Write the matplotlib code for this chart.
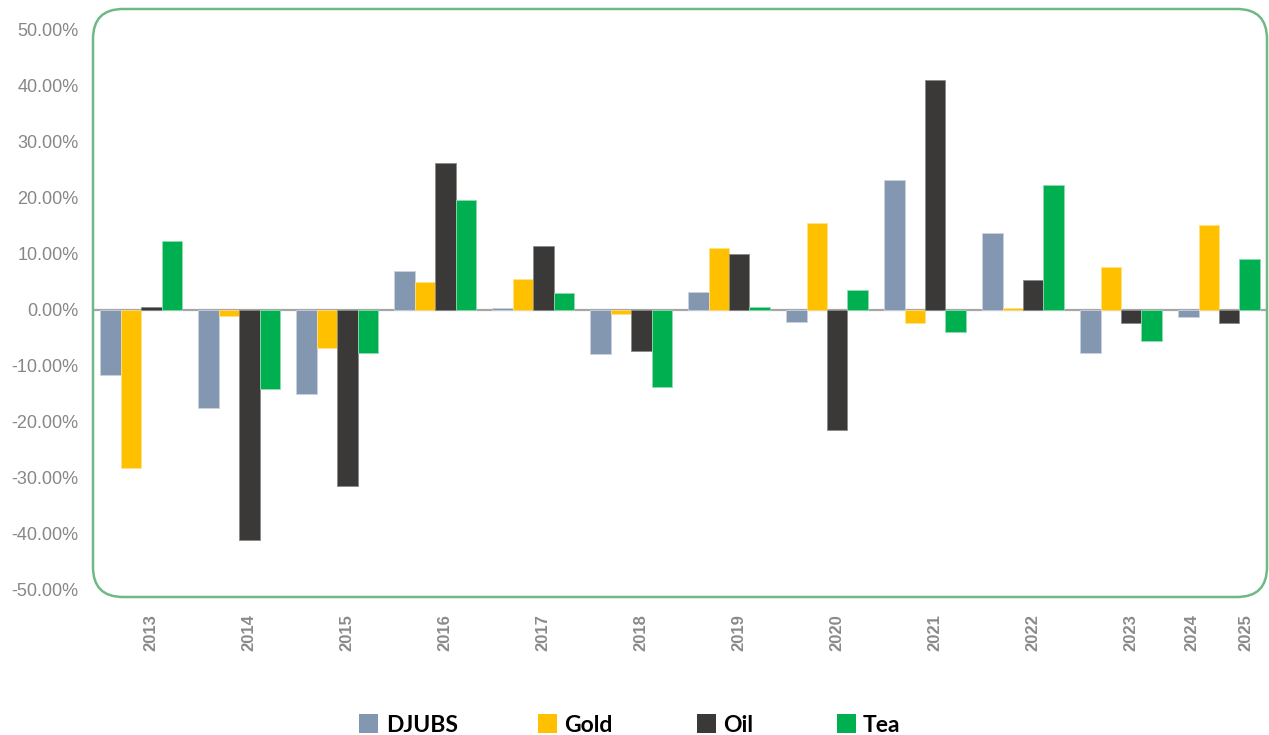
import numpy as np
import matplotlib
matplotlib.use("Agg")
import matplotlib.pyplot as plt
from matplotlib.patches import FancyBboxPatch, Rectangle
from matplotlib.transforms import IdentityTransform

# ---------------- data ----------------
series_names = ["DJUBS", "Gold", "Oil", "Tea"]
djubs = [-11.8, -17.7, -15.2, 6.8, 0.3, -8.0, 3.1, -2.3, 23.2, 13.7, -7.7, -1.3]
gold = [-28.4, -1.1, -6.8, 4.9, 5.4, -0.8, 11.0, 15.4, -2.4, 0.2, 7.6, 15.2]
oil = [0.5, -41.2, -31.5, 26.2, 11.3, -7.4, 10.0, -21.5, 41.1, 5.3, -2.4, -2.4]
tea = [12.3, -14.3, -7.7, 19.6, 2.9, -13.9, 0.4, 3.5, -4.1, 22.2, -5.7, 9.0]
year_labels = ["2013", "2014", "2015", "2016", "2017", "2018", "2019",
               "2020", "2021", "2022", "2023", "2024", "2025"]
y_ticks = [-50, -40, -30, -20, -10, 0, 10, 20, 30, 40, 50]

colors = ["#8497B0", "#FFC000", "#3B3838", "#00B050"]
edge_colors = ["#c9d2de", "#ffe08a", "#8a8a8a", "#8fdcb0"]

W, H = 1269, 735
fig = plt.figure(figsize=(W / 100, H / 100), dpi=100)

# axes placement (pixels)
ax_left, ax_right, ax_top, ax_bot = 94, 1268, 30, 589
ax = fig.add_axes([ax_left / W, 1 - ax_bot / H, (ax_right - ax_left) / W, (ax_bot - ax_top) / H])

n_groups = len(djubs)
x = np.arange(n_groups)
bw = 0.209
for k, (vals, c, ec) in enumerate(zip([djubs, gold, oil, tea], colors, edge_colors)):
    ax.bar(x + (k - 1.5) * bw, vals, width=bw, color=c, edgecolor=ec,
           linewidth=0.6, zorder=3, label=series_names[k])

ax.axhline(0, color="#a6a6a6", linewidth=1.6, zorder=2)
ax.set_ylim(-50, 50)
ax.set_xlim(-0.48, 11.5)

for s in ax.spines.values():
    s.set_visible(False)

ax.set_yticks(y_ticks)
ax.set_yticklabels([f"{v:.2f}%" for v in y_ticks], fontsize=13,
                   color="#878787", family=["Liberation Sans", "DejaVu Sans"])
ax.tick_params(axis="y", length=0, pad=11)

# tick label positions (layout)
label_pos = list(np.arange(11) + 0.10) + [10.72, 11.27]
ax.set_xticks(label_pos)
ax.set_xticklabels(year_labels, rotation=90, fontsize=12, fontweight="bold",
                   color="#8a8a8a", family=["Liberation Sans", "DejaVu Sans"])
ax.tick_params(axis="x", length=0, pad=18)
for t in ax.get_xticklabels():
    t.set_va("top")
    t.set_ha("center")

# rounded green border (pixels, display coords)
bx0, by_top, bx1, by_bot = 93, 9, 1267, 597
border = FancyBboxPatch((bx0, H - by_bot), bx1 - bx0, by_bot - by_top,
                        boxstyle="round,pad=0,rounding_size=30",
                        transform=IdentityTransform(), fill=False,
                        edgecolor="#6fb985", linewidth=1.8, zorder=10)
fig.add_artist(border)

# manual legend
leg_sq_x = [359, 538, 697, 837]
leg_txt_x = [386, 564, 723, 863]
sq = 19
for name, c, sx, tx in zip(series_names, colors, leg_sq_x, leg_txt_x):
    fig.add_artist(Rectangle((sx, H - 733), sq, sq, transform=IdentityTransform(),
                             facecolor=c, edgecolor="none"))
    fig.text(tx / W, (H - 731.5) / H, name, fontsize=16.5, fontweight="bold",
             color="black", va="baseline", ha="left",
             family=["Lato", "DejaVu Sans"])

fig.savefig("out.png", dpi=100)
